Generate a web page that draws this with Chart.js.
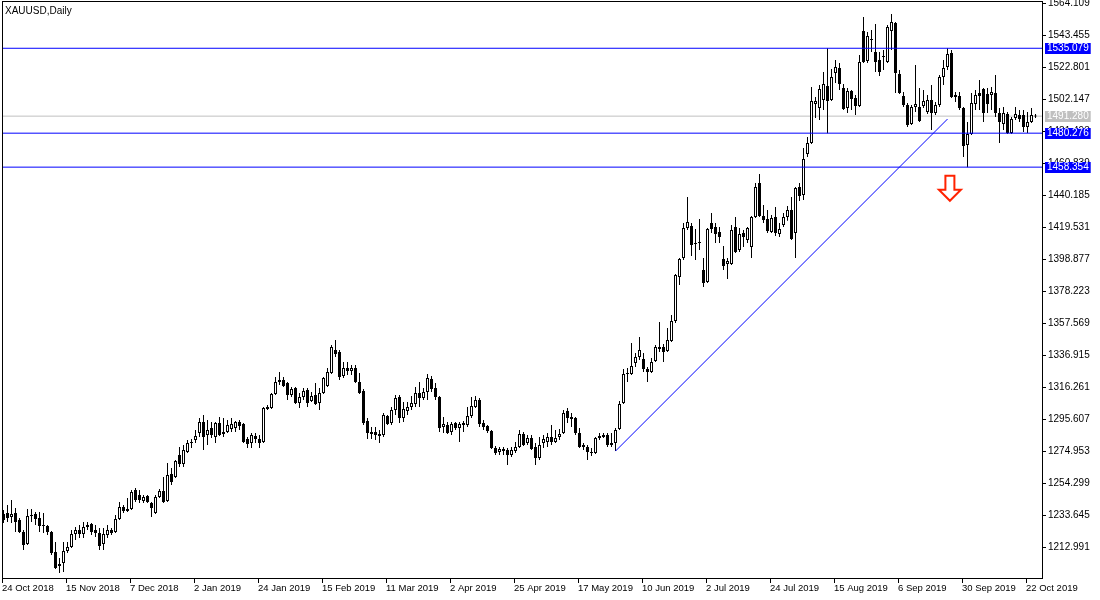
<!DOCTYPE html>
<html lang="en">
<head>
<meta charset="UTF-8">
<title>XAUUSD,Daily</title>
<script src="https://cdn.jsdelivr.net/npm/chart.js@4.4.1/dist/chart.umd.min.js"></script>
<style>
    html, body { margin: 0; padding: 0; background: #fff; }
    #wrap { position: relative; width: 1100px; height: 600px; }
    #symbol {
        position: absolute; left: 5px; top: 5px;
        font: 10px 'Liberation Sans', Arial, sans-serif; color: #000;
    }
</style>
</head>
<body>
<div id="wrap">
    <canvas id="chart" width="1100" height="600"></canvas>
    <div id="symbol">XAUUSD,Daily</div>
</div>
<script>
// date labels on the time axis, one every 16 bars
const dateLabels = ['24 Oct 2018', '15 Nov 2018', '7 Dec 2018', '2 Jan 2019', '24 Jan 2019', '15 Feb 2019',
    '11 Mar 2019', '2 Apr 2019', '25 Apr 2019', '17 May 2019', '10 Jun 2019', '2 Jul 2019',
    '24 Jul 2019', '15 Aug 2019', '6 Sep 2019', '30 Sep 2019', '22 Oct 2019'];
const barsPerLabel = 16;

// price ticks on the right axis
const priceTicks = [1564.109, 1543.455, 1522.801, 1502.147, 1481.493, 1460.839, 1440.185, 1419.531,
    1398.877, 1378.223, 1357.569, 1336.915, 1316.261, 1295.607, 1274.953, 1254.299, 1233.645, 1212.991];

// daily OHLC
const openP = [
    1234.5, 1235.1, 1232.5, 1235.1, 1230.6, 1222.9, 1215.1, 1233.2, 1234.5, 1231.9,
    1226.7, 1226.7, 1222.9, 1210.0, 1200.9, 1202.9, 1210.6, 1213.2, 1221.6, 1224.2,
    1221.6, 1226.1, 1228.0, 1224.2, 1222.2, 1215.1, 1220.9, 1224.2, 1222.9, 1231.3,
    1239.0, 1236.4, 1237.7, 1250.0, 1246.7, 1242.9, 1246.1, 1241.6, 1235.1, 1245.5,
    1249.3, 1242.9, 1260.3, 1258.4, 1272.6, 1266.8, 1274.5, 1280.3, 1282.2, 1286.8,
    1293.9, 1285.5, 1290.0, 1284.2, 1293.2, 1287.4, 1287.4, 1289.3, 1290.0, 1293.9,
    1292.6, 1282.9, 1280.3, 1284.8, 1282.9, 1281.0, 1302.3, 1302.9, 1311.9, 1321.0,
    1321.0, 1319.0, 1311.3, 1315.8, 1306.1, 1310.0, 1314.5, 1307.4, 1311.3, 1306.1,
    1312.6, 1317.1, 1325.5, 1340.3, 1339.0, 1323.6, 1328.7, 1326.8, 1328.7, 1319.7,
    1313.9, 1294.5, 1286.1, 1287.4, 1286.1, 1285.5, 1297.7, 1293.2, 1301.6, 1310.0,
    1296.4, 1301.0, 1303.5, 1305.5, 1312.6, 1309.4, 1313.2, 1321.6, 1315.8, 1310.0,
    1290.6, 1291.9, 1287.4, 1293.2, 1290.0, 1293.2, 1291.9, 1297.7, 1303.5, 1308.1,
    1293.2, 1291.3, 1288.1, 1277.1, 1274.5, 1276.4, 1275.8, 1272.6, 1275.1, 1277.7,
    1286.1, 1280.3, 1283.5, 1277.7, 1270.6, 1280.3, 1281.0, 1284.2, 1281.0, 1284.2,
    1286.8, 1301.0, 1297.1, 1296.4, 1286.8, 1279.0, 1277.7, 1274.5, 1273.9, 1283.5,
    1285.5, 1285.5, 1280.3, 1280.3, 1289.3, 1306.1, 1325.5, 1324.8, 1332.0, 1335.8,
    1334.5, 1328.1, 1326.1, 1333.2, 1342.3, 1342.3, 1339.7, 1346.1, 1359.1, 1387.5,
    1399.7, 1419.1, 1420.4, 1409.4, 1409.4, 1392.0, 1384.2, 1422.3, 1419.7, 1416.5,
    1399.1, 1395.9, 1395.9, 1419.7, 1404.9, 1415.9, 1411.3, 1406.8, 1426.2, 1448.1,
    1426.8, 1424.9, 1416.5, 1426.2, 1415.2, 1421.0, 1426.2, 1430.7, 1415.9, 1445.5,
    1440.4, 1466.9, 1474.0, 1499.1, 1496.5, 1501.7, 1510.7, 1501.7, 1519.1, 1522.3,
    1509.4, 1496.5, 1507.5, 1503.0, 1497.8, 1546.2, 1526.9, 1540.4, 1532.7, 1527.5,
    1529.5, 1526.2, 1546.2, 1551.4, 1518.5, 1504.3, 1498.5, 1486.2, 1497.2, 1497.2,
    1497.8, 1493.9, 1501.7, 1493.3, 1498.5, 1516.5, 1523.0, 1532.0, 1503.6, 1504.3,
    1496.5, 1472.7, 1479.8, 1499.1, 1506.2, 1508.8, 1505.6, 1504.9, 1506.2, 1493.3,
    1486.2, 1492.7, 1480.4, 1490.1, 1492.0, 1492.0, 1484.3, 1487.5, 1491.0
];
const highP = [
    1237.1, 1240.3, 1243.5, 1238.4, 1231.9, 1224.2, 1237.7, 1237.7, 1235.8, 1235.8,
    1235.1, 1227.4, 1223.5, 1216.4, 1206.1, 1216.4, 1216.4, 1224.2, 1226.1, 1227.4,
    1229.3, 1229.3, 1228.7, 1227.4, 1225.4, 1225.4, 1227.4, 1225.4, 1233.8, 1242.2,
    1240.3, 1244.8, 1250.0, 1251.3, 1250.0, 1246.7, 1246.7, 1242.2, 1246.7, 1250.6,
    1258.4, 1267.4, 1264.2, 1269.3, 1277.7, 1279.0, 1282.2, 1282.9, 1288.7, 1296.4,
    1298.4, 1295.2, 1293.9, 1293.9, 1297.1, 1296.4, 1295.2, 1296.4, 1294.5, 1295.2,
    1293.2, 1284.2, 1286.8, 1286.8, 1285.5, 1303.5, 1304.8, 1312.6, 1322.9, 1326.1,
    1322.9, 1319.7, 1316.5, 1316.5, 1312.6, 1315.8, 1315.8, 1313.2, 1319.0, 1315.8,
    1322.9, 1328.7, 1343.6, 1346.8, 1340.3, 1332.6, 1332.6, 1330.7, 1330.7, 1325.5,
    1315.2, 1296.4, 1290.6, 1290.6, 1288.7, 1299.7, 1298.4, 1303.5, 1311.3, 1311.3,
    1306.8, 1306.8, 1310.6, 1316.5, 1319.7, 1315.8, 1324.8, 1323.6, 1319.0, 1310.6,
    1297.1, 1293.9, 1293.9, 1293.9, 1293.9, 1294.5, 1303.5, 1310.0, 1310.6, 1309.4,
    1295.2, 1291.9, 1288.7, 1278.4, 1277.7, 1277.7, 1277.1, 1277.7, 1280.9, 1288.7,
    1287.4, 1285.5, 1285.5, 1280.3, 1284.2, 1285.5, 1286.8, 1291.9, 1288.7, 1289.3,
    1301.6, 1302.9, 1299.7, 1297.1, 1290.0, 1280.3, 1279.0, 1277.1, 1284.2, 1286.8,
    1286.8, 1286.8, 1286.8, 1290.0, 1307.4, 1328.1, 1328.7, 1344.9, 1338.4, 1348.7,
    1338.4, 1329.4, 1335.2, 1343.6, 1358.4, 1344.2, 1354.5, 1362.9, 1389.4, 1399.7,
    1422.3, 1439.1, 1422.3, 1418.4, 1424.9, 1399.7, 1419.1, 1428.8, 1422.3, 1419.7,
    1407.5, 1399.7, 1421.0, 1426.2, 1419.1, 1417.8, 1419.7, 1426.8, 1448.1, 1453.9,
    1433.9, 1430.7, 1427.5, 1432.6, 1422.3, 1428.8, 1433.3, 1439.1, 1445.5, 1448.1,
    1470.7, 1477.8, 1510.1, 1503.6, 1511.4, 1519.8, 1535.08, 1521.7, 1527.5, 1525.6,
    1512.0, 1509.4, 1508.2, 1504.9, 1530.7, 1555.3, 1545.6, 1546.9, 1550.8, 1532.7,
    1534.0, 1550.1, 1557.2, 1552.0, 1521.1, 1506.9, 1499.8, 1498.5, 1524.3, 1509.4,
    1508.2, 1504.9, 1511.4, 1500.4, 1517.8, 1527.5, 1535.08, 1534.0, 1506.9, 1506.9,
    1497.2, 1487.5, 1506.2, 1508.2, 1514.6, 1509.4, 1509.4, 1510.1, 1517.8, 1496.5,
    1497.2, 1494.0, 1490.7, 1497.2, 1495.2, 1495.2, 1493.9, 1496.5, 1492.7
];
const lowP = [
    1228.7, 1229.3, 1228.7, 1222.9, 1222.2, 1211.2, 1214.5, 1229.3, 1227.4, 1222.9,
    1222.2, 1220.9, 1208.0, 1199.0, 1196.4, 1197.1, 1209.3, 1212.5, 1217.7, 1219.0,
    1219.0, 1224.2, 1220.9, 1219.6, 1211.2, 1211.2, 1219.0, 1220.9, 1222.2, 1230.6,
    1235.1, 1235.8, 1237.1, 1242.2, 1241.6, 1241.6, 1241.6, 1232.6, 1234.5, 1244.8,
    1241.6, 1242.2, 1253.2, 1257.7, 1264.8, 1264.8, 1273.9, 1277.1, 1280.3, 1284.2,
    1275.8, 1279.0, 1283.5, 1280.3, 1284.8, 1284.2, 1286.8, 1287.4, 1287.4, 1288.7,
    1280.3, 1277.1, 1277.1, 1280.3, 1277.1, 1280.3, 1301.6, 1302.3, 1311.3, 1317.7,
    1316.5, 1308.1, 1310.0, 1305.5, 1302.9, 1308.1, 1303.5, 1306.8, 1304.8, 1301.6,
    1311.9, 1316.5, 1324.8, 1335.8, 1321.0, 1322.3, 1324.2, 1324.2, 1319.0, 1311.9,
    1291.9, 1282.9, 1282.9, 1282.2, 1280.3, 1284.2, 1291.9, 1291.9, 1298.4, 1293.2,
    1293.9, 1298.4, 1301.6, 1303.5, 1303.5, 1308.1, 1308.1, 1313.2, 1308.1, 1287.4,
    1286.8, 1286.1, 1285.5, 1288.7, 1281.0, 1287.4, 1290.6, 1296.4, 1302.9, 1290.6,
    1288.7, 1286.8, 1276.4, 1272.6, 1272.6, 1272.6, 1266.1, 1271.3, 1273.9, 1277.1,
    1278.4, 1279.0, 1275.8, 1266.1, 1269.3, 1277.1, 1277.7, 1279.0, 1280.3, 1282.2,
    1286.1, 1293.2, 1290.6, 1285.5, 1277.1, 1275.8, 1269.3, 1271.9, 1273.2, 1282.2,
    1283.5, 1277.7, 1277.7, 1275.1, 1288.7, 1305.5, 1319.7, 1324.2, 1329.4, 1333.9,
    1326.1, 1319.7, 1325.5, 1332.6, 1339.1, 1332.6, 1339.1, 1345.5, 1357.8, 1382.3,
    1398.4, 1417.8, 1401.0, 1398.4, 1404.9, 1381.0, 1383.6, 1415.8, 1409.4, 1409.4,
    1392.0, 1386.2, 1395.2, 1402.9, 1403.6, 1406.8, 1409.4, 1399.7, 1425.5, 1426.2,
    1422.3, 1415.9, 1415.9, 1413.9, 1413.3, 1419.7, 1423.7, 1411.3, 1399.7, 1436.5,
    1437.2, 1464.9, 1473.3, 1490.1, 1488.8, 1495.2, 1480.28, 1501.1, 1512.7, 1508.2,
    1495.2, 1493.3, 1495.2, 1492.0, 1497.2, 1525.6, 1525.6, 1532.7, 1519.8, 1517.2,
    1521.1, 1525.6, 1534.0, 1506.2, 1505.6, 1497.2, 1484.3, 1485.6, 1494.0, 1487.5,
    1496.5, 1492.7, 1482.3, 1492.0, 1497.2, 1511.4, 1521.1, 1503.0, 1500.4, 1495.2,
    1464.9, 1458.35, 1479.1, 1495.2, 1495.2, 1487.5, 1493.3, 1495.2, 1490.7, 1474.0,
    1482.3, 1479.8, 1479.8, 1488.8, 1487.5, 1481.0, 1480.4, 1486.9, 1490.1
];
const closeP = [
    1230.6, 1231.9, 1234.5, 1229.3, 1222.9, 1214.5, 1233.2, 1233.8, 1231.3, 1226.7,
    1227.4, 1222.9, 1209.3, 1199.6, 1202.2, 1210.6, 1213.2, 1221.6, 1224.2, 1221.6,
    1226.1, 1227.4, 1222.9, 1222.2, 1213.8, 1221.6, 1224.2, 1222.2, 1231.3, 1239.0,
    1236.4, 1237.7, 1248.7, 1243.5, 1243.5, 1245.5, 1242.2, 1238.4, 1245.5, 1249.3,
    1242.2, 1259.7, 1255.1, 1268.7, 1266.8, 1275.8, 1280.3, 1280.4, 1284.8, 1293.9,
    1284.2, 1288.7, 1285.5, 1293.2, 1285.5, 1286.1, 1291.9, 1292.6, 1293.9, 1291.3,
    1281.0, 1279.7, 1285.5, 1282.9, 1280.3, 1302.9, 1303.5, 1311.9, 1319.7, 1319.7,
    1317.1, 1311.3, 1315.2, 1306.1, 1310.0, 1313.9, 1306.1, 1310.6, 1305.5, 1312.6,
    1322.3, 1326.1, 1342.3, 1337.8, 1322.9, 1328.7, 1326.8, 1328.7, 1319.7, 1312.6,
    1293.2, 1286.8, 1287.4, 1285.5, 1284.8, 1298.4, 1292.6, 1301.6, 1309.4, 1296.4,
    1302.3, 1303.5, 1306.1, 1312.6, 1309.4, 1313.2, 1322.3, 1315.2, 1310.0, 1290.0,
    1292.6, 1286.8, 1292.6, 1290.0, 1292.6, 1291.9, 1297.7, 1304.2, 1308.1, 1292.6,
    1290.6, 1288.1, 1277.1, 1273.9, 1276.4, 1275.1, 1272.6, 1275.8, 1277.7, 1286.1,
    1279.0, 1283.5, 1276.4, 1270.6, 1279.0, 1282.9, 1284.2, 1281.0, 1283.5, 1286.1,
    1299.7, 1296.4, 1295.8, 1286.8, 1277.7, 1277.7, 1274.5, 1273.9, 1283.5, 1284.8,
    1284.2, 1279.0, 1279.0, 1288.7, 1305.5, 1324.8, 1324.8, 1330.0, 1335.8, 1340.3,
    1328.1, 1326.1, 1332.6, 1342.3, 1341.0, 1339.1, 1346.8, 1359.1, 1388.7, 1399.1,
    1419.1, 1422.9, 1408.1, 1408.8, 1410.0, 1383.6, 1418.4, 1418.4, 1415.2, 1413.3,
    1394.6, 1397.8, 1417.8, 1403.6, 1415.2, 1413.3, 1419.1, 1426.2, 1445.5, 1426.8,
    1424.2, 1417.1, 1425.5, 1415.9, 1418.4, 1426.2, 1430.7, 1412.0, 1444.9, 1439.7,
    1463.6, 1474.0, 1501.1, 1501.1, 1508.8, 1512.0, 1501.1, 1516.5, 1523.0, 1512.0,
    1495.9, 1507.5, 1502.3, 1497.8, 1526.2, 1526.2, 1543.0, 1541.1, 1526.2, 1519.8,
    1530.1, 1548.8, 1552.0, 1519.1, 1506.2, 1498.5, 1485.6, 1497.2, 1499.1, 1488.1,
    1501.1, 1501.7, 1493.3, 1498.5, 1516.5, 1522.3, 1531.4, 1503.6, 1504.9, 1496.5,
    1472.0, 1479.8, 1499.8, 1504.9, 1504.3, 1493.3, 1499.1, 1506.9, 1493.3, 1487.5,
    1493.3, 1480.4, 1489.4, 1492.7, 1489.4, 1484.3, 1487.5, 1492.0, 1491.28
];

// horizontal levels, bid line, trend line and arrow marker
const levelPrices = [1535.079, 1480.276, 1458.354];
const bidPrice = 1491.280;
const trendBars = [153, 236];
const trendPrices = [1275.1, 1489.4];
const arrowBar = 236.6;
const arrowPrice = 1452.8;

// visible window
const xMin = -0.375, xMax = 259.625;
const yMin = 1193.18, yMax = 1565.59;

const idx = openP.map((_, i) => i);
const wickData = idx.map(i => ({ x: i, y: [lowP[i], highP[i]] }));
const bodyData = idx.map(i => ({ x: i, y: [openP[i], closeP[i]] }));
const bodyFill = idx.map(i => closeP[i] >= openP[i] ? '#ffffff' : '#000000');

function hLine(price, color, order) {
    return {
        type: 'line',
        data: [{ x: xMin, y: price }, { x: xMax, y: price }],
        borderColor: color, borderWidth: 1, pointRadius: 0, order: order
    };
}

const decor = {
    id: 'decor',
    afterDatasetsDraw(chart) {
        const { ctx, scales: { x, y } } = chart;
        // red down arrow
        const cx = x.getPixelForValue(arrowBar);
        const top = y.getPixelForValue(arrowPrice);
        ctx.save();
        ctx.beginPath();
        ctx.moveTo(cx - 4.5, top);
        ctx.lineTo(cx + 4.5, top);
        ctx.lineTo(cx + 4.5, top + 14);
        ctx.lineTo(cx + 11, top + 14);
        ctx.lineTo(cx, top + 25);
        ctx.lineTo(cx - 11, top + 14);
        ctx.lineTo(cx - 4.5, top + 14);
        ctx.closePath();
        ctx.fillStyle = '#ffffff';
        ctx.fill();
        ctx.lineWidth = 2;
        ctx.strokeStyle = '#ff2200';
        ctx.stroke();
        ctx.restore();
    },
    afterDraw(chart) {
        const { ctx, chartArea: a, scales: { y } } = chart;
        ctx.save();
        // frame
        ctx.strokeStyle = '#000';
        ctx.lineWidth = 1;
        ctx.strokeRect(a.left + 0.5, a.top + 0.5, a.right - a.left, a.bottom - a.top);
        // price tags
        ctx.font = '10px "Liberation Sans", Arial, sans-serif';
        ctx.textBaseline = 'middle';
        ctx.textAlign = 'left';
        const tags = levelPrices.map(p => [p, '#0000ff']).concat([[bidPrice, '#c0c0c0']]);
        tags.forEach(([p, c]) => {
            const py = Math.round(y.getPixelForValue(p));
            const txt = p.toFixed(3);
            const w = ctx.measureText(txt).width;
            ctx.fillStyle = c;
            ctx.fillRect(a.right + 3, py - 5, w + 4, 11);
            ctx.fillStyle = '#ffffff';
            ctx.fillText(txt, a.right + 5, py + 0.5);
        });
        ctx.restore();
    }
};

new Chart(document.getElementById('chart'), {
    type: 'bar',
    data: {
        datasets: [
            hLine(levelPrices[0], '#0000ff', 0),
            hLine(levelPrices[1], '#0000ff', 0),
            hLine(levelPrices[2], '#0000ff', 0),
            hLine(bidPrice, '#c0c0c0', 5),
            {
                type: 'line',
                data: trendBars.map((b, k) => ({ x: b, y: trendPrices[k] })),
                borderColor: '#0000ff', borderWidth: 1, pointRadius: 0, order: 0
            },
            {
                label: 'body',
                data: bodyData,
                backgroundColor: bodyFill,
                borderColor: '#000000',
                borderWidth: 1,
                borderSkipped: false,
                barThickness: 3,
                minBarLength: 1,
                inflateAmount: 0,
                grouped: false,
                order: 1
            },
            {
                label: 'wick',
                data: wickData,
                backgroundColor: '#000000',
                borderWidth: 0,
                barThickness: 1,
                inflateAmount: 0,
                grouped: false,
                order: 2
            }
        ]
    },
    options: {
        responsive: false,
        animation: false,
        devicePixelRatio: 1,
        layout: { padding: { left: 2, top: 1, right: 0, bottom: 0 } },
        plugins: { legend: { display: false }, tooltip: { enabled: false } },
        scales: {
            x: {
                type: 'linear',
                min: xMin,
                max: xMax,
                offset: false,
                // date ticks sit on the left edge of their bar, as in the terminal
                afterBuildTicks: s => { s.ticks = dateLabels.map((_, k) => ({ value: k * barsPerLabel + xMin })); },
                afterFit: s => { s.height = 22; s.paddingLeft = 0; s.paddingRight = 0; },
                border: { display: false },
                grid: { drawOnChartArea: false, drawTicks: true, tickLength: 5, color: '#000', offset: false },
                ticks: {
                    autoSkip: false,
                    maxRotation: 0,
                    align: 'start',
                    padding: 0,
                    color: '#000',
                    font: { family: 'Liberation Sans', size: 9.5 },
                    callback: (v, i) => dateLabels[i]
                }
            },
            y: {
                type: 'linear',
                position: 'right',
                min: yMin,
                max: yMax,
                afterBuildTicks: s => { s.ticks = priceTicks.map(v => ({ value: v })); },
                afterFit: s => { s.width = 58; s.paddingTop = 0; s.paddingBottom = 0; },
                border: { display: false },
                grid: { drawOnChartArea: false, drawTicks: true, tickLength: 4, color: '#000' },
                ticks: {
                    autoSkip: false,
                    padding: 2,
                    color: '#000',
                    font: { family: 'Liberation Sans', size: 10 },
                    callback: v => v.toFixed(3)
                }
            }
        }
    },
    plugins: [decor]
});
</script>
</body>
</html>
